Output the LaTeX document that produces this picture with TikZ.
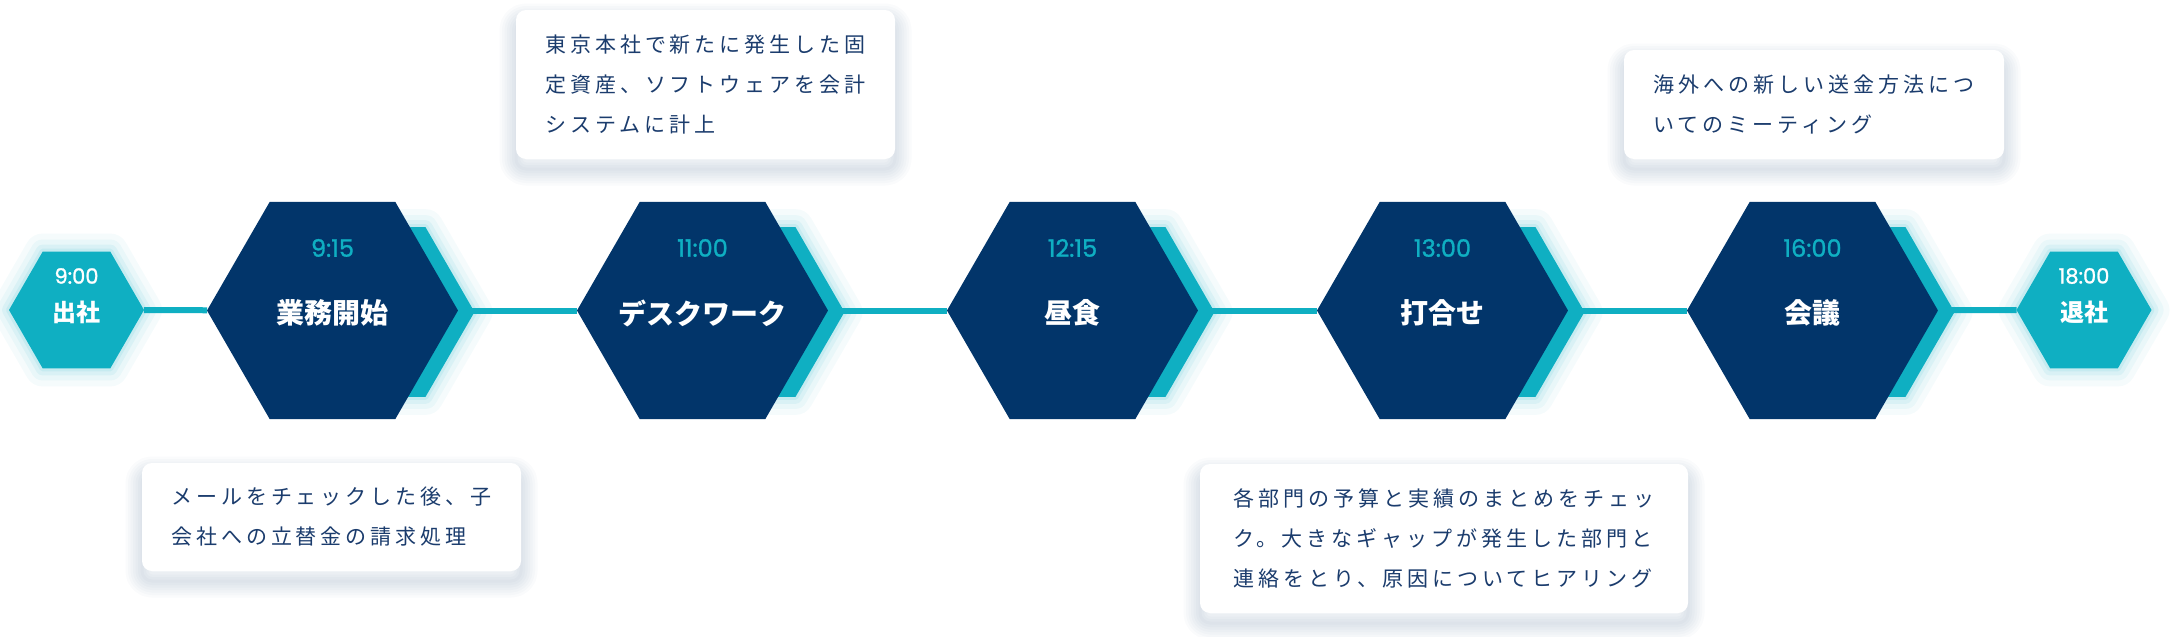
\documentclass[tikz,border=0pt]{standalone}
\usepackage{fontspec}
\usetikzlibrary{shapes.geometric}
\newfontfamily\jp{Noto Sans CJK JP}
\newfontfamily\jpbox[LetterSpace=19]{Noto Sans CJK JP}
\newfontfamily\num[FakeBold=1.2]{Poppins}
\definecolor{navy}{HTML}{02356A}
\definecolor{tealc}{HTML}{0FAFC2}
\definecolor{boxtext}{HTML}{1B3C6D}
\definecolor{shadowc}{HTML}{3A5A85}
\pgfdeclarelayer{bg}
\pgfsetlayers{bg,main}
\tikzset{
  glow/.style={
    preaction={draw=tealc, draw opacity=0.04, line width=36pt, line join=round},
    preaction={draw=tealc, draw opacity=0.05, line width=24pt, line join=round},
    preaction={draw=tealc, draw opacity=0.07, line width=14pt, line join=round},
    preaction={draw=tealc, draw opacity=0.09, line width=6pt, line join=round}},
  smallhex/.style={regular polygon, regular polygon sides=6, minimum size=135pt, inner sep=0pt, outer sep=0pt, fill=tealc, glow},
  backhex/.style={regular polygon, regular polygon sides=6, minimum size=196pt, inner sep=0pt, outer sep=0pt, fill=tealc, glow},
  bighex/.style={regular polygon, regular polygon sides=6, minimum size=251pt, inner sep=0pt, outer sep=0pt, fill=navy},
  tl/.style={draw=tealc, line width=6pt},
  timet/.style={font=\num\fontsize{24pt}{24pt}\selectfont, text=tealc, inner sep=0pt},
  timew/.style={font=\num\fontsize{21pt}{21pt}\selectfont, text=white, inner sep=0pt},
  lblbig/.style={font=\jp\bfseries\fontsize{28pt}{28pt}\selectfont, text=white, inner sep=0pt},
  lblsmall/.style={font=\jp\bfseries\fontsize{24pt}{24pt}\selectfont, text=white, inner sep=0pt},
  notebox/.style={fill=white, rounded corners=10pt, align=left, inner sep=0pt, outer sep=0pt,
    font=\jpbox\fontsize{21pt}{40pt}\selectfont, text=boxtext},
  shadowring/.style={draw=shadowc, draw opacity=0.022, rounded corners=10pt, line join=round},
}
\newcommand{\boxshadow}[1]{%
  \begin{pgfonlayer}{bg}
  \foreach \w in {3,8,13,18,23,28,33}{
    \draw[shadowring, line width=\w pt] ([yshift=-10pt]#1.south west) rectangle ([yshift=-10pt]#1.north east);
  }
  \end{pgfonlayer}}
\begin{document}
\begin{tikzpicture}[x=1pt,y=-1pt]
\begin{pgfonlayer}{bg}
\fill[white] (0,0) rectangle (2177,637);
\end{pgfonlayer}
\useasboundingbox (0,0) rectangle (2177,637);
% start
\node[smallhex] (s0) at (76.5,310) {};
\node[timew] (ts) at (76.5,276) {9:00};
\node[lblsmall] (ls) at (76.5,312) {出社};
% big hexes
\node[backhex] (b1) at (376.5,312) {};
\node[bighex] (h1) at (332.5,310.5) {};
\node[timet] (t1) at (332.5,248) {9:15};
\node[lblbig] (l1) at (332.5,313) {業務開始};
\node[backhex] (b2) at (746.5,312) {};
\node[bighex] (h2) at (702.5,310.5) {};
\node[timet] (t2) at (702.5,248) {11:00};
\node[lblbig] (l2) at (702.5,313) {デスクワーク};
\node[backhex] (b3) at (1116.5,312) {};
\node[bighex] (h3) at (1072.5,310.5) {};
\node[timet] (t3) at (1072.5,248) {12:15};
\node[lblbig] (l3) at (1072.5,313) {昼食};
\node[backhex] (b4) at (1486.5,312) {};
\node[bighex] (h4) at (1442.5,310.5) {};
\node[timet] (t4) at (1442.5,248) {13:00};
\node[lblbig] (l4) at (1442.5,313) {打合せ};
\node[backhex] (b5) at (1856.5,312) {};
\node[bighex] (h5) at (1812.5,310.5) {};
\node[timet] (t5) at (1812.5,248) {16:00};
\node[lblbig] (l5) at (1812.5,313) {会議};
% end
\node[smallhex] (e0) at (2084,310) {};
\node[timew] (te) at (2084,276) {18:00};
\node[lblsmall] (le) at (2084,312) {退社};
% connectors
\draw[tl] (s0) -- (h1);
\draw[tl] (h1) -- (h2);
\draw[tl] (h2) -- (h3);
\draw[tl] (h3) -- (h4);
\draw[tl] (h4) -- (h5);
\draw[tl] (h5) -- (e0);
% note boxes
\node[notebox, minimum width=379pt, minimum height=108pt] (n1) at (331.5,517)
  {メールをチェックした後、子\\会社への立替金の請求処理};
\node[notebox, minimum width=379pt, minimum height=149pt] (n2) at (705.5,84.5)
  {東京本社で新たに発生した固\\定資産、ソフトウェアを会計\\システムに計上};
\node[notebox, minimum width=488pt, minimum height=149pt] (n3) at (1444,538.5)
  {各部門の予算と実績のまとめをチェッ\\ク。大きなギャップが発生した部門と\\連絡をとり、原因についてヒアリング};
\node[notebox, minimum width=380pt, minimum height=109pt] (n4) at (1814,104.5)
  {海外への新しい送金方法につ\\いてのミーティング};
\boxshadow{n1}
\boxshadow{n2}
\boxshadow{n3}
\boxshadow{n4}
\end{tikzpicture}
\end{document}
